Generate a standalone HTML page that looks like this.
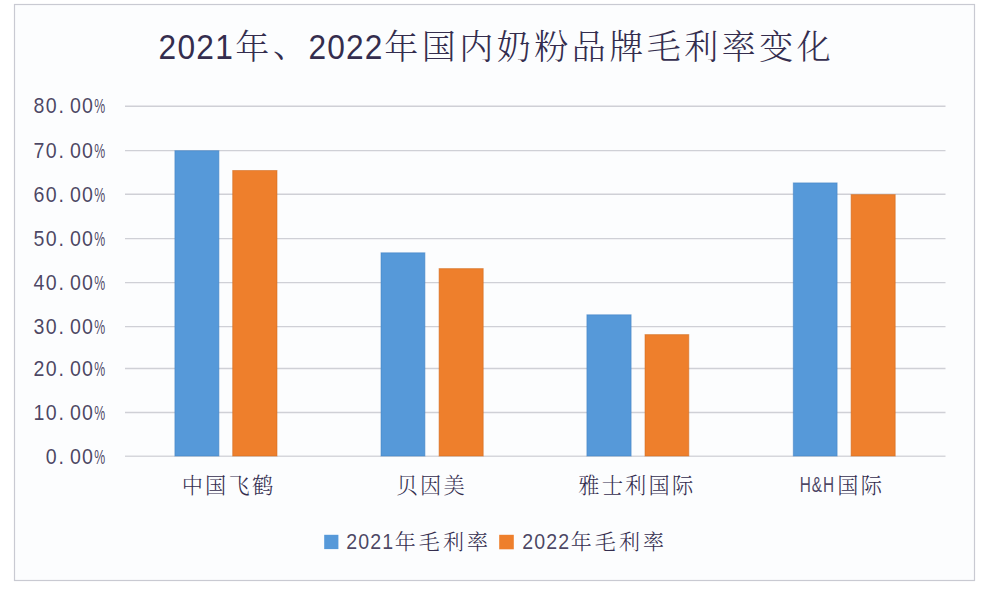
<!DOCTYPE html>
<html lang="zh-CN">
<head>
<meta charset="utf-8">
<title>2021年、2022年国内奶粉品牌毛利率变化</title>
<style>
html,body{margin:0;padding:0;background:#fff;}
body{width:988px;height:594px;overflow:hidden;}
svg{display:block;}
.lat{font-family:"Liberation Sans",sans-serif;fill:#342d4e;fill-opacity:.88;}
.big{fill-opacity:1;}
.cjk{font-family:"Liberation Sans", "Noto Serif CJK SC", serif;font-weight:300;fill:#342d4e;}
</style>
</head>
<body>
<svg width="988" height="594" viewBox="0 0 988 594" role="img" aria-label="2021年、2022年国内奶粉品牌毛利率变化">
<rect x="14.5" y="4.5" width="960" height="576" fill="#fcfdfe" stroke="#c9cad2" stroke-width="1.2"/>
<g>
<g stroke="#cfd0d6" stroke-width="1.4">
<line x1="125" y1="106.2" x2="945.5" y2="106.2"/>
<line x1="125" y1="150.6" x2="945.5" y2="150.6"/>
<line x1="125" y1="194.3" x2="945.5" y2="194.3"/>
<line x1="125" y1="238.6" x2="945.5" y2="238.6"/>
<line x1="125" y1="282.6" x2="945.5" y2="282.6"/>
<line x1="125" y1="326.6" x2="945.5" y2="326.6"/>
<line x1="125" y1="368.5" x2="945.5" y2="368.5"/>
<line x1="125" y1="412.5" x2="945.5" y2="412.5"/>
<line x1="125" y1="456.3" x2="945.5" y2="456.3" stroke="#d6d7dc"/>
</g>
<rect x="174.9" y="150.7" width="44.0" height="305.3" fill="#5699d9" stroke="#3f7fc2" stroke-opacity="0.55"/>
<rect x="232.7" y="170.5" width="44.3" height="285.5" fill="#ee7f2c" stroke="#cf6a1e" stroke-opacity="0.55"/>
<rect x="381.0" y="252.8" width="43.9" height="203.2" fill="#5699d9" stroke="#3f7fc2" stroke-opacity="0.55"/>
<rect x="439.1" y="268.6" width="44.1" height="187.4" fill="#ee7f2c" stroke="#cf6a1e" stroke-opacity="0.55"/>
<rect x="586.9" y="314.8" width="44.2" height="141.2" fill="#5699d9" stroke="#3f7fc2" stroke-opacity="0.55"/>
<rect x="645.0" y="334.6" width="43.8" height="121.4" fill="#ee7f2c" stroke="#cf6a1e" stroke-opacity="0.55"/>
<rect x="793.3" y="182.9" width="43.8" height="273.1" fill="#5699d9" stroke="#3f7fc2" stroke-opacity="0.55"/>
<rect x="851.1" y="194.6" width="44.1" height="261.4" fill="#ee7f2c" stroke="#cf6a1e" stroke-opacity="0.55"/>
<text class="lat" font-size="22.5" text-anchor="middle" transform="scale(0.87,1)" x="44.89 58.79 70.52 86.61 100.52" y="113.5">80.00</text><text class="lat" font-size="20.5" text-anchor="middle" transform="scale(0.6,1)" x="166.08" y="113.5">%</text>
<text class="lat" font-size="22.5" text-anchor="middle" transform="scale(0.87,1)" x="44.89 58.79 70.52 86.61 100.52" y="157.9">70.00</text><text class="lat" font-size="20.5" text-anchor="middle" transform="scale(0.6,1)" x="166.08" y="157.9">%</text>
<text class="lat" font-size="22.5" text-anchor="middle" transform="scale(0.87,1)" x="44.89 58.79 70.52 86.61 100.52" y="201.6">60.00</text><text class="lat" font-size="20.5" text-anchor="middle" transform="scale(0.6,1)" x="166.08" y="201.6">%</text>
<text class="lat" font-size="22.5" text-anchor="middle" transform="scale(0.87,1)" x="44.89 58.79 70.52 86.61 100.52" y="245.9">50.00</text><text class="lat" font-size="20.5" text-anchor="middle" transform="scale(0.6,1)" x="166.08" y="245.9">%</text>
<text class="lat" font-size="22.5" text-anchor="middle" transform="scale(0.87,1)" x="44.89 58.79 70.52 86.61 100.52" y="289.9">40.00</text><text class="lat" font-size="20.5" text-anchor="middle" transform="scale(0.6,1)" x="166.08" y="289.9">%</text>
<text class="lat" font-size="22.5" text-anchor="middle" transform="scale(0.87,1)" x="44.89 58.79 70.52 86.61 100.52" y="333.9">30.00</text><text class="lat" font-size="20.5" text-anchor="middle" transform="scale(0.6,1)" x="166.08" y="333.9">%</text>
<text class="lat" font-size="22.5" text-anchor="middle" transform="scale(0.87,1)" x="44.89 58.79 70.52 86.61 100.52" y="375.8">20.00</text><text class="lat" font-size="20.5" text-anchor="middle" transform="scale(0.6,1)" x="166.08" y="375.8">%</text>
<text class="lat" font-size="22.5" text-anchor="middle" transform="scale(0.87,1)" x="44.89 58.79 70.52 86.61 100.52" y="419.8">10.00</text><text class="lat" font-size="20.5" text-anchor="middle" transform="scale(0.6,1)" x="166.08" y="419.8">%</text>
<text class="lat" font-size="22.5" text-anchor="middle" transform="scale(0.87,1)" x="58.79 70.52 86.61 100.52" y="463.6">0.00</text><text class="lat" font-size="20.5" text-anchor="middle" transform="scale(0.6,1)" x="166.08" y="463.6">%</text>
<text class="lat big" font-size="36" text-anchor="middle" transform="scale(0.88,1)" x="190.17 211.65 233.12 254.60" y="58.9">2021</text><text class="cjk" font-size="34" text-anchor="middle" x="252.25" y="58.8">年</text><text class="cjk" font-size="34" text-anchor="middle" x="290.05" y="57.0">、</text><text class="lat big" font-size="36" text-anchor="middle" transform="scale(0.88,1)" x="360.54 381.85 403.15 424.46" y="58.9">2022</text><text class="cjk" font-size="34" text-anchor="middle" x="401.25 438.75 476.25 513.75 551.25 588.75 626.25 663.75 701.25 738.75 776.25 813.75" y="58.8">年国内奶粉品牌毛利率变化</text>
<text class="cjk" font-size="21.2" text-anchor="middle" x="192.30 215.70 239.10 262.50" y="492.6">中国飞鹤</text><text class="cjk" font-size="21.2" text-anchor="middle" x="407.20 430.60 454.00" y="492.6">贝因美</text><text class="cjk" font-size="21.2" text-anchor="middle" x="588.90 612.30 635.70 659.10 682.50" y="492.6">雅士利国际</text><text class="lat" font-size="21.4" text-anchor="middle" transform="scale(0.72,1)" x="1118.61 1134.72 1150.83" y="492.3">H&amp;H</text><text class="cjk" font-size="21.2" text-anchor="middle" x="847.90 871.30" y="492.6">国际</text>
<rect x="324.2" y="534.8" width="14.2" height="14.3" fill="#5699d9"/><rect x="499.2" y="534.8" width="14.6" height="14.5" fill="#ee7f2c"/>
<text class="lat" font-size="22.5" text-anchor="middle" transform="scale(0.87,1)" x="404.14 417.93 431.72 445.52" y="548.8">2021</text><text class="cjk" font-size="21" text-anchor="middle" x="405.25 429.35 453.45 477.55" y="549.2">年毛利率</text><text class="lat" font-size="22.5" text-anchor="middle" transform="scale(0.87,1)" x="606.55 620.34 634.14 647.93" y="548.8">2022</text><text class="cjk" font-size="21" text-anchor="middle" x="581.25 605.35 629.45 653.55" y="549.2">年毛利率</text>
</g>
</svg>
</body>
</html>
